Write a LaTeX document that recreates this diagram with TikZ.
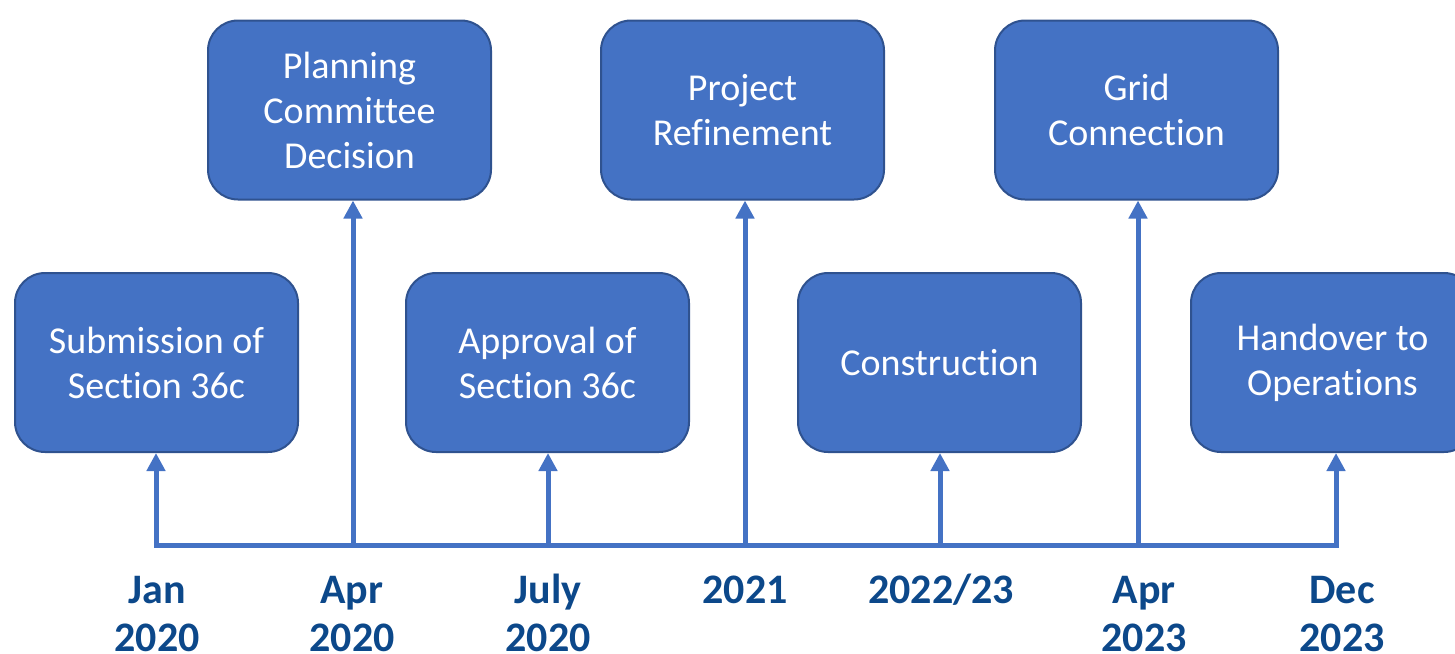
\documentclass[tikz,border=0pt]{standalone}
\usepackage{fontspec}
\setmainfont{Carlito}[Ligatures={NoCommon}]
\usetikzlibrary{arrows.meta}
\definecolor{boxfill}{HTML}{4472C4}
\definecolor{boxline}{HTML}{2F528F}
\definecolor{labelblue}{RGB}{12,72,138}
\tikzset{
  stagebox/.style={draw=boxline, line width=1pt, fill=boxfill, rounded corners=15pt,
    minimum width=141.5pt, minimum height=89.5pt, text=white, align=center,
    font=\fontsize{19}{22.5}\selectfont, inner sep=0pt},
  datelabel/.style={anchor=base, text=labelblue, align=center,
    font=\fontsize{21}{24}\selectfont\bfseries, inner sep=0pt},
  tline/.style={draw=boxfill, line width=2.5pt},
  tarrow/.style={tline, -{Triangle[width=9pt,length=9pt]}}
}
\begin{document}
\begin{tikzpicture}[x=0.5pt, y=-0.5pt]
\useasboundingbox (0,0) rectangle (1455,653);
% boxes
\node[stagebox] (b1) at (156.5,362.5) {Submission of\\Section 36c};
\node[stagebox] (b2) at (349.5,110) {Planning\\Committee\\Decision};
\node[stagebox] (b3) at (547.5,362.5) {Approval of\\Section 36c};
\node[stagebox] (b4) at (742.5,110) {Project\\Refinement};
\node[stagebox] (b5) at (939.5,362.5) {Construction};
\node[stagebox] (b6) at (1136.5,110) {Grid\\Connection};
\node[stagebox] (b7) at (1332.5,362.5) {Handover to\\Operations};
% timeline points
\coordinate (t1) at (156,545);
\coordinate (t2) at (353,545);
\coordinate (t3) at (548,545);
\coordinate (t4) at (745,545);
\coordinate (t5) at (940,545);
\coordinate (t6) at (1138,545);
\coordinate (t7) at (1336,545);
\draw[tline, line join=miter] (t1) -- (t7);
\draw[tarrow] ([yshift=-1.25pt]t1) -- (t1 |- b1.south);
\draw[tarrow] (t2) -- (t2 |- b2.south);
\draw[tarrow] (t3) -- (t3 |- b3.south);
\draw[tarrow] (t4) -- (t4 |- b4.south);
\draw[tarrow] (t5) -- (t5 |- b5.south);
\draw[tarrow] (t6) -- (t6 |- b6.south);
\draw[tarrow] ([yshift=-1.25pt]t7) -- (t7 |- b7.south);
% date labels (base anchor = baseline of the last line)
\node[datelabel] (d1) at (157,651) {Jan\\2020};
\node[datelabel] (d2) at (352,651) {Apr\\2020};
\node[datelabel] (d3) at (548,651) {July\\2020};
\node[datelabel] (d4) at (745,603) {2021};
\node[datelabel] (d5) at (941,603) {2022/23};
\node[datelabel] (d6) at (1144,651) {Apr\\2023};
\node[datelabel] (d7) at (1342,651) {Dec\\2023};
\end{tikzpicture}
\end{document}
